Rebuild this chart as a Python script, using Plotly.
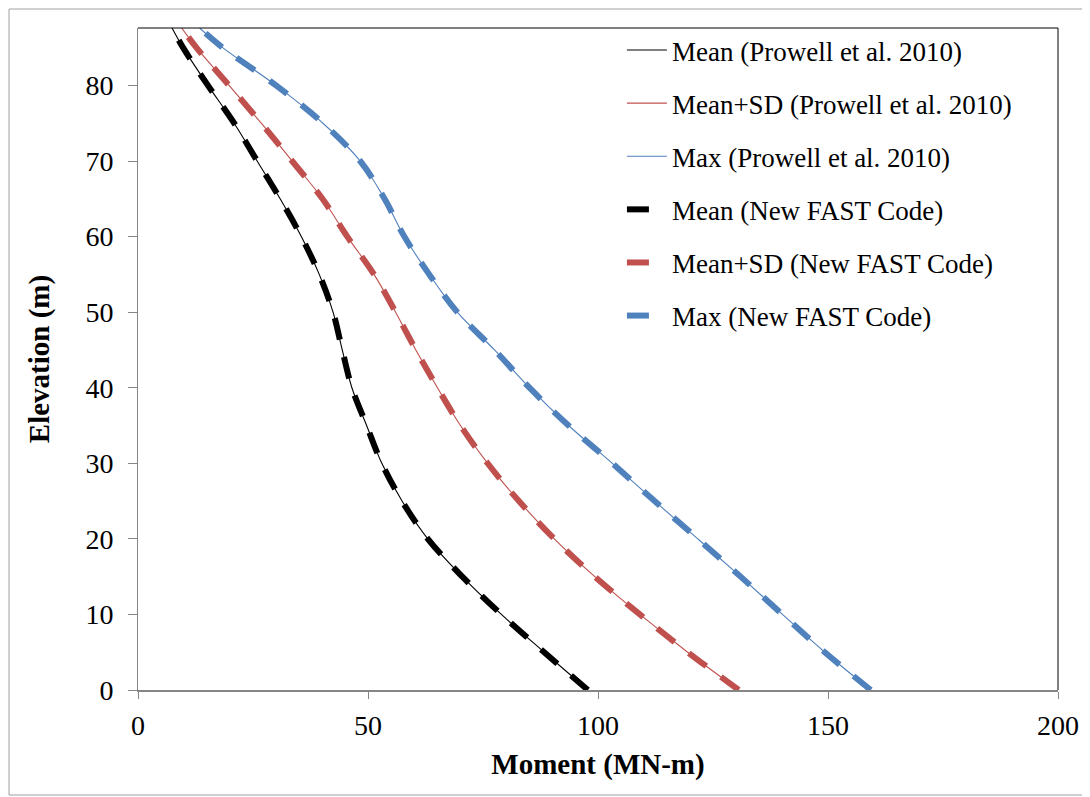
import plotly.graph_objects as go

# Elevation (m)
elevation = [0, 5, 10, 15, 20, 25, 30, 35, 40, 45, 50, 55, 60, 65, 70, 75, 80, 85, 87.6]

# Moment (MN-m) - Prowell et al. 2010
mean_prowell = [97.8, 88.3, 79.0, 70.5, 63.0, 57.4, 53.0, 49.7, 46.5, 44.4, 42.4, 39.4, 35.5, 30.9, 25.9, 20.9, 15.2, 9.8, 7.4]
meansd_prowell = [130.6, 119.5, 109.1, 99.3, 90.5, 82.8, 76.0, 70.1, 65.1, 60.4, 56.0, 51.3, 45.5, 40.1, 33.5, 26.8, 19.8, 12.7, 9.5]
max_prowell = [159.3, 149.3, 140.1, 131.0, 121.7, 112.3, 103.1, 93.6, 85.1, 77.5, 69.4, 63.3, 57.9, 53.6, 48.3, 40.2, 30.0, 18.4, 13.4]

# Moment (MN-m) - New FAST Code
mean_fast = [97.8, 88.3, 79.0, 70.5, 63.0, 57.4, 53.0, 49.7, 46.5, 44.4, 42.4, 39.4, 35.5, 30.9, 25.9, 20.9, 15.2, 9.8, 7.4]
meansd_fast = [130.6, 119.5, 109.1, 99.3, 90.5, 82.8, 76.0, 70.1, 65.1, 60.4, 56.0, 51.3, 45.5, 40.1, 33.5, 26.8, 19.8, 12.7, 9.5]
max_fast = [159.3, 149.3, 140.1, 131.0, 121.7, 112.3, 103.1, 93.6, 85.1, 77.5, 69.4, 63.3, 57.9, 53.6, 48.3, 40.2, 30.0, 18.4, 13.4]

names = [
    "Mean (Prowell et al. 2010)",
    "Mean+SD (Prowell et al. 2010)",
    "Max (Prowell et al. 2010)",
    "Mean (New FAST Code)",
    "Mean+SD (New FAST Code)",
    "Max (New FAST Code)",
]
colors = ["#000000", "#C0504D", "#4F81BD"]

fig = go.Figure()
thin = [mean_prowell, meansd_prowell, max_prowell]
thick = [mean_fast, meansd_fast, max_fast]
for i, xs in enumerate(thin):
    fig.add_trace(go.Scatter(
        x=xs, y=elevation, mode="lines", name=names[i], legendgroup=f"g{i}",
        line=dict(color=colors[i], width=1.1), line_shape="spline",
    ))
for i, xs in enumerate(thick):
    fig.add_trace(go.Scatter(
        x=xs, y=elevation, mode="lines", name=names[i + 3], legendgroup=f"g{i+3}",
        line=dict(color=colors[i], width=6, dash="22px,18px"), line_shape="spline",
    ))

font_family = "Liberation Serif"

# page coordinates of the plot area (figure sits 8px in from the page edge)
PX0, PX1, PY0, PY1 = 138, 1058, 28, 690
W, H = PX1 - PX0, PY1 - PY0


def px(x):
    return (x - PX0) / W


def py(y):
    return (PY1 - y) / H


fig.update_layout(
    width=1082, height=789,
    margin=dict(l=PX0 - 8, r=1090 - PX1, t=PY0 - 8, b=797 - PY1),
    paper_bgcolor="white", plot_bgcolor="white",
    font=dict(family=font_family, size=27, color="black"),
    showlegend=True,
    legend=dict(
        x=0.526, y=1.003, xanchor="left", yanchor="top",
        bgcolor="rgba(0,0,0,0)", borderwidth=0,
        font=dict(family=font_family, size=27, color="black"),
        tracegroupgap=15, itemwidth=40,
    ),
    xaxis=dict(
        range=[0, 200], tickvals=[0, 50, 100, 150, 200],
        showgrid=False, zeroline=False, automargin=False,
        showline=True, linecolor="#868686", linewidth=2,
        ticks="outside", ticklen=7, tickcolor="#868686", tickwidth=1,
        ticklabelstandoff=2,
        tickfont=dict(family=font_family, size=28),
        title=dict(text="<b>Moment (MN-m)</b>", font=dict(family=font_family, size=29), standoff=14),
    ),
    yaxis=dict(
        range=[0, 87.6], tickvals=[0, 10, 20, 30, 40, 50, 60, 70, 80],
        showgrid=False, zeroline=False, automargin=False,
        showline=True, linecolor="#868686", linewidth=1,
        ticks="outside", ticklen=9, tickcolor="#868686", tickwidth=1,
        ticklabelstandoff=9,
        tickfont=dict(family=font_family, size=28),
        title=dict(text="<b>Elevation (m)</b>", font=dict(family=font_family, size=29), standoff=27),
    ),
    shapes=[
        dict(type="line", xref="paper", yref="paper", x0=0, x1=1, y0=1, y1=1,
             line=dict(color="black", width=1)),
        dict(type="line", xref="paper", yref="paper", x0=1, x1=1, y0=0, y1=1,
             line=dict(color="black", width=1)),
        dict(type="rect", xref="paper", yref="paper",
             x0=px(9), x1=px(1085), y0=py(795), y1=py(9),
             line=dict(color="#A0A0A0", width=1), fillcolor="rgba(0,0,0,0)", layer="below"),
    ],
)

fig.write_html("out.html")
